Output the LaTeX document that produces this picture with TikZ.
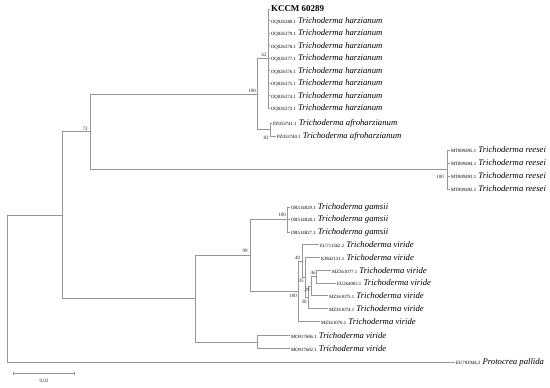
\documentclass[tikz,border=0pt]{standalone}
\usepackage{fontspec}
\setmainfont{Liberation Serif}
\usetikzlibrary{arrows.meta}
\definecolor{treegray}{RGB}{150,150,150}
\newcommand{\acc}[1]{{\upshape\fontsize{4.8}{5}\selectfont #1}\hspace{2.2pt}}
\tikzset{
  br/.style={draw=treegray, line width=0.8pt},
  tip/.style={anchor=west, inner sep=0.8pt, font=\fontsize{8.7}{9}\selectfont\itshape},
  bs/.style={inner sep=0pt, font=\fontsize{5}{5}\selectfont, text=black!85},
}
\begin{document}
\begin{tikzpicture}[x=1pt,y=-1pt]
\useasboundingbox (0,0) rectangle (550,388);
% internal nodes
\coordinate (R) at (7,288.6);
\coordinate (A) at (62,215.2);
\coordinate (B) at (90,131.8);
\coordinate (C) at (257,94.1);
\coordinate (D) at (268,58.5);
\coordinate (E) at (270,129.75);
\coordinate (F) at (447,169.5);
\coordinate (G) at (195,298.65);
\coordinate (H) at (250,255.3);
\coordinate (I) at (287,219.5);
\coordinate (J) at (298,291.15);
\coordinate (L) at (302,260.9);
\coordinate (S) at (305,277.35);
\coordinate (Rn) at (308,297.4);
\coordinate (Q) at (311,286.2);
\coordinate (P) at (316,276.55);
\coordinate (K) at (257,342);
% tips
\coordinate (tK) at (270,9);
\coordinate (th1) at (270,20.5);
\coordinate (th2) at (270,33);
\coordinate (th3) at (270,45.5);
\coordinate (th4) at (270,58);
\coordinate (th5) at (270,70.5);
\coordinate (th6) at (270,83);
\coordinate (th7) at (270,95.5);
\coordinate (th8) at (270,108);
\coordinate (ta1) at (272,123.5);
\coordinate (ta2) at (276,136);
\coordinate (tr1) at (450,150);
\coordinate (tr2) at (450,163);
\coordinate (tr3) at (450,176);
\coordinate (tr4) at (450,189);
\coordinate (tg1) at (290,207);
\coordinate (tg2) at (290,219.5);
\coordinate (tg3) at (290,232);
\coordinate (tv1) at (319,244.5);
\coordinate (tv2) at (320,257.3);
\coordinate (tv3) at (331,270.1);
\coordinate (tv4) at (336,283);
\coordinate (tv5) at (328,295.8);
\coordinate (tv6) at (328,308.6);
\coordinate (tv7) at (320,321.4);
\coordinate (tm1) at (290,335.5);
\coordinate (tm2) at (290,348.5);
\coordinate (tp) at (455,362);
% branches
\draw[br] (R) |- (A);
\draw[br] (R) |- (tp);
\draw[br] (A) |- (B);
\draw[br] (A) |- (G);
\draw[br] (B) |- (C);
\draw[br] (B) |- (F);
\draw[br] (C) |- (D);
\draw[br] (C) |- (E);
\foreach \t in {tK,th1,th2,th3,th4,th5,th6,th7,th8} \draw[br] (D) |- (\t);
\draw[br] (E) |- (ta1);
\draw[br] (E) |- (ta2);
\foreach \t in {tr1,tr2,tr3,tr4} \draw[br] (F) |- (\t);
\draw[br] (G) |- (H);
\draw[br] (G) |- (K);
\draw[br] (H) |- (I);
\draw[br] (H) |- (J);
\foreach \t in {tg1,tg2,tg3} \draw[br] (I) |- (\t);
\draw[br] (J) |- (L);
\draw[br] (J) |- (tv7);
\draw[br] (L) |- (tv1);
\draw[br] (L) |- (S);
\draw[br] (S) |- (tv2);
\draw[br] (S) |- (Rn);
\draw[br] (Rn) |- (Q);
\draw[br] (Rn) |- (tv6);
\draw[br] (Q) |- (P);
\draw[br] (Q) |- (tv5);
\draw[br] (P) |- (tv3);
\draw[br] (P) |- (tv4);
\draw[br] (K) |- (tm1);
\draw[br] (K) |- (tm2);
% tip labels
\node[tip, font=\fontsize{9}{9}\selectfont\bfseries] (lK) at (tK) {KCCM 60289};
\node[tip] (lh1) at (th1) {\acc{OQ026380.1}Trichoderma harzianum};
\node[tip] (lh2) at (th2) {\acc{OQ026379.1}Trichoderma harzianum};
\node[tip] (lh3) at (th3) {\acc{OQ026378.1}Trichoderma harzianum};
\node[tip] (lh4) at (th4) {\acc{OQ026377.1}Trichoderma harzianum};
\node[tip] (lh5) at (th5) {\acc{OQ026376.1}Trichoderma harzianum};
\node[tip] (lh6) at (th6) {\acc{OQ026375.1}Trichoderma harzianum};
\node[tip] (lh7) at (th7) {\acc{OQ026374.1}Trichoderma harzianum};
\node[tip] (lh8) at (th8) {\acc{OQ026373.1}Trichoderma harzianum};
\node[tip] (la1) at (ta1) {\acc{PZ053741.1}Trichoderma afroharzianum};
\node[tip] (la2) at (ta2) {\acc{PZ053740.1}Trichoderma afroharzianum};
\node[tip] (lr1) at (tr1) {\acc{MT809495.1}Trichoderma reesei};
\node[tip] (lr2) at (tr2) {\acc{MT809494.1}Trichoderma reesei};
\node[tip] (lr3) at (tr3) {\acc{MT809493.1}Trichoderma reesei};
\node[tip] (lr4) at (tr4) {\acc{MT809492.1}Trichoderma reesei};
\node[tip] (lg1) at (tg1) {\acc{OR514829.1}Trichoderma gamsii};
\node[tip] (lg2) at (tg2) {\acc{OR514828.1}Trichoderma gamsii};
\node[tip] (lg3) at (tg3) {\acc{OR514827.1}Trichoderma gamsii};
\node[tip] (lv1) at (tv1) {\acc{EU711362.2}Trichoderma viride};
\node[tip] (lv2) at (tv2) {\acc{KJ842131.1}Trichoderma viride};
\node[tip] (lv3) at (tv3) {\acc{MZ361077.1}Trichoderma viride};
\node[tip] (lv4) at (tv4) {\acc{EU264003.1}Trichoderma viride};
\node[tip] (lv5) at (tv5) {\acc{MZ361075.1}Trichoderma viride};
\node[tip] (lv6) at (tv6) {\acc{MZ361074.1}Trichoderma viride};
\node[tip] (lv7) at (tv7) {\acc{MZ361076.1}Trichoderma viride};
\node[tip] (lm1) at (tm1) {\acc{MO917686.1}Trichoderma viride};
\node[tip] (lm2) at (tm2) {\acc{MO917682.1}Trichoderma viride};
\node[tip] (lp) at (tp) {\acc{EU703944.2}Protocrea pallida};
% bootstrap values
\node[bs] (b72) at (85,129) {72};
\node[bs] (bC) at (252,91) {100};
\node[bs] (bD) at (264,55) {62};
\node[bs] (bE) at (266,137.5) {83};
\node[bs] (bF) at (440,177) {100};
\node[bs] (bH) at (245,251) {99};
\node[bs] (bI) at (282,215) {100};
\node[bs] (bJ) at (293,295.5) {100};
\node[bs] (bL) at (297.5,258) {40};
\node[bs] (bS) at (301,280.5) {35};
\node[bs] (bQ) at (307,289.5) {29};
\node[bs] (bP) at (313,273) {46};
\node[bs] (bR) at (304,301.5) {30};
% scale bar
\coordinate (sb1) at (13,373);
\coordinate (sb2) at (75,373);
\draw[br, {Bar[width=3pt]}-{Bar[width=3pt]}] (sb1) -- (sb2);
\node[bs] (sbl) at (44,381) {0.02};
\end{tikzpicture}
\end{document}
